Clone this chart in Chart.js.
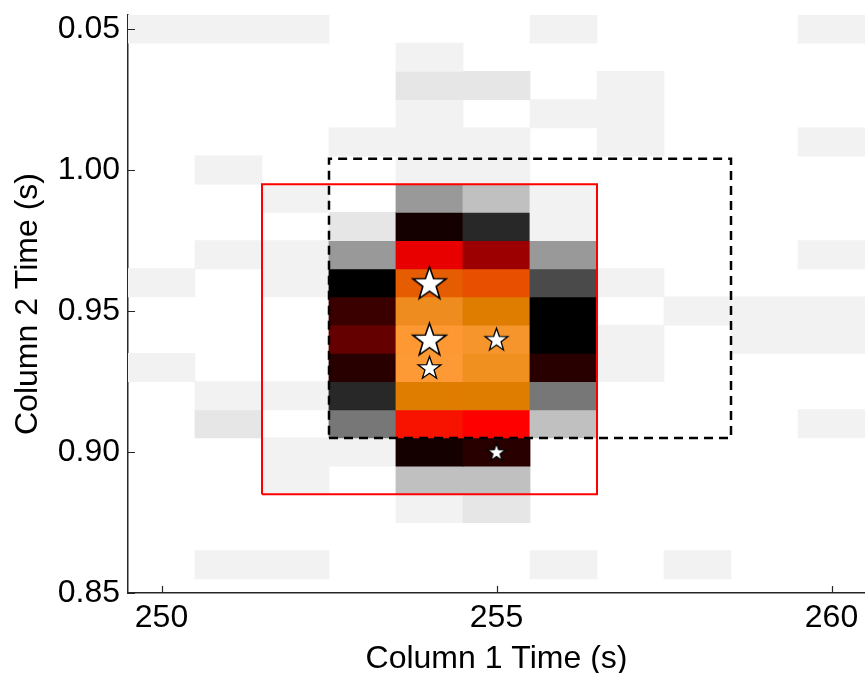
<!DOCTYPE html>
<html>
<head>
<meta charset="utf-8">
<script src="https://cdn.jsdelivr.net/npm/chart.js@4.4.1/dist/chart.umd.min.js"></script>
<style>
html,body{margin:0;padding:0;background:#ffffff;overflow:hidden;}
#wrap{width:865px;height:673px;}
canvas{display:block;}
</style>
</head>
<body>
<div id="wrap"><canvas id="c" width="865" height="673"></canvas></div>
<script>
// ---------------- DATA ----------------
const colCenters = [250, 251, 252, 253, 254, 255, 256, 257, 258, 259, 260];
const rowCenters = [1.05, 1.04, 1.03, 1.02, 1.01, 1.00, 0.99, 0.98, 0.97, 0.96,
                    0.95, 0.94, 0.93, 0.92, 0.91, 0.90, 0.89, 0.88, 0.87, 0.86];
const binWidth = 1;
const binHeight = 0.01;
// intensity level for each cell (rows top to bottom, columns 250..260)
const cellLevels = [
  [1,1,1,0,0,0,1,0,0,0,1],
  [0,0,0,0,1,0,0,0,0,0,0],
  [0,0,0,0,2,2,0,1,0,0,0],
  [0,0,0,0,1,0,1,1,0,0,0],
  [0,0,0,1,1,1,0,1,0,0,1],
  [0,1,0,0,1,1,0,0,0,0,0],
  [0,0,1,0,4,3,1,0,0,0,0],
  [0,0,0,2,9,7,1,0,0,0,0],
  [0,1,1,4,14,13,4,0,0,0,1],
  [1,0,1,8,18,17,6,1,0,0,0],
  [0,0,0,11,20,19,8,0,1,1,1],
  [0,0,0,12,23,22,8,1,0,1,1],
  [1,0,0,10,24,21,10,1,0,0,0],
  [0,1,1,7,19,19,5,0,0,0,0],
  [0,2,0,5,16,15,3,0,0,0,1],
  [0,0,1,1,9,10,0,0,0,0,0],
  [0,0,1,0,3,3,0,0,0,0,0],
  [0,0,0,0,1,2,0,0,0,0,0],
  [0,0,0,0,0,0,0,0,0,0,0],
  [0,1,1,0,0,0,1,0,1,0,0]
];
const xTickValues = [250, 255, 260];
const xTickLabels = ['250', '255', '260'];
const yTickValues = [0.85, 0.90, 0.95, 1.00, 1.05];
const yTickLabels = ['0.85', '0.90', '0.95', '1.00', '0.05'];
const starX = [254, 254, 254, 255, 255];
const starY = [0.96, 0.94, 0.93, 0.94, 0.90];
const starWeight = [3, 3, 2, 2, 1];
const redBoxX = [251.5, 256.5];
const redBoxY = [0.885, 0.995];
const dashBoxX = [252.5, 258.5];
const dashBoxY = [0.905, 1.004];
const xRange = [249.5, 260.5];
const yRange = [0.85, 1.055];

// ---------------- STYLE ----------------
const levelColors = ['rgba(0,0,0,0)', '#f2f2f2', '#e6e6e6', '#c0c0c0', '#999999', '#777777',
  '#4a4a4a', '#282828', '#000000', '#150000', '#280000', '#3a0000', '#640000', '#9c0000',
  '#e80000', '#ff0000', '#f81200', '#e85000', '#e65c00', '#df7d00', '#ef8c1f', '#f0901f',
  '#f7952d', '#fd9833', '#fd9a35'];
const starRadius = {3: 17.5, 2: 12, 1: 9.5};
const FONT = "'Liberation Sans', Arial, Helvetica, sans-serif";
const AXIS_COLOR = '#262626';

function makeStar(R, lw) {
  const s = Math.ceil(2 * R + lw * 2 + 4);
  const cv = document.createElement('canvas');
  cv.width = s; cv.height = s;
  const g = cv.getContext('2d');
  g.translate(s / 2, s / 2 + R * 0.08);
  g.beginPath();
  const r = R * 0.40;
  for (let i = 0; i < 10; i++) {
    const rad = (i % 2 === 0) ? R : r;
    const a = -Math.PI / 2 + i * Math.PI / 5;
    const px = rad * Math.cos(a), py = rad * Math.sin(a);
    if (i === 0) g.moveTo(px, py); else g.lineTo(px, py);
  }
  g.closePath();
  g.fillStyle = '#ffffff';
  g.fill();
  g.lineJoin = 'miter';
  g.lineWidth = lw;
  g.strokeStyle = '#000000';
  g.stroke();
  return cv;
}
const starImages = {};
Object.keys(starRadius).forEach(k => {
  starImages[k] = makeStar(starRadius[k], k === '3' ? 1.6 : 1.3);
});

// ---------------- DATASETS ----------------
const cellDatasets = rowCenters.map((yc, r) => ({
  type: 'bar',
  order: 3,
  data: colCenters.map((xc, c) => ({x: xc, y: [yc - binHeight / 2, yc + binHeight / 2], v: cellLevels[r][c]})),
  backgroundColor: ctx => levelColors[ctx.raw ? ctx.raw.v : 0],
  borderWidth: 0,
  borderSkipped: false,
  grouped: false,
  categoryPercentage: 1,
  barPercentage: 1,
  inflateAmount: 0.4
}));

function boxData(bx, by) {
  return [
    {x: bx[0], y: by[0]}, {x: bx[1], y: by[0]}, {x: bx[1], y: by[1]},
    {x: bx[0], y: by[1]}, {x: bx[0], y: by[0]}
  ];
}

const datasets = [
  {
    type: 'scatter',
    order: 0,
    data: starX.map((x, i) => ({x: x, y: starY[i], w: starWeight[i]})),
    pointStyle: ctx => starImages[ctx.raw ? ctx.raw.w : 1],
    pointRadius: ctx => starRadius[ctx.raw ? ctx.raw.w : 1],
    showLine: false
  },
  {
    type: 'line',
    order: 1,
    data: boxData(redBoxX, redBoxY),
    borderColor: '#ff0000',
    borderWidth: 2,
    pointRadius: 0,
    fill: false,
    tension: 0
  },
  {
    type: 'line',
    order: 1,
    data: boxData(dashBoxX, dashBoxY),
    borderColor: '#000000',
    borderWidth: 2.5,
    borderDash: [9, 6],
    pointRadius: 0,
    fill: false,
    tension: 0
  },
  ...cellDatasets
];

const inwardTicks = {
  id: 'inwardTicks',
  afterDraw(chart) {
    const {ctx, chartArea: a, scales: {x, y}} = chart;
    ctx.save();
    ctx.strokeStyle = AXIS_COLOR;
    ctx.lineWidth = 1.2;
    ctx.beginPath();
    xTickValues.forEach(v => {
      const px = Math.round(x.getPixelForValue(v)) + 0.5;
      ctx.moveTo(px, a.bottom); ctx.lineTo(px, a.bottom - 7);
    });
    yTickValues.forEach(v => {
      const py = Math.round(y.getPixelForValue(v)) + 0.5;
      ctx.moveTo(a.left, py); ctx.lineTo(a.left + 7, py);
    });
    ctx.stroke();
    ctx.restore();
  }
};

new Chart(document.getElementById('c'), {
  type: 'bar',
  data: {datasets: datasets},
  options: {
    responsive: false,
    animation: false,
    devicePixelRatio: 1,
    layout: {autoPadding: false, padding: {top: 15, right: 0, left: 0, bottom: 0}},
    plugins: {legend: {display: false}, tooltip: {enabled: false}},
    scales: {
      x: {
        type: 'linear',
        min: xRange[0], max: xRange[1],
        offset: false,
        afterBuildTicks: axis => { axis.ticks = xTickValues.map(v => ({value: v})); },
        afterFit: axis => { axis.height = 80; axis.paddingLeft = 0; axis.paddingRight = 0; },
        grid: {display: false, drawTicks: false},
        border: {display: true, color: AXIS_COLOR, width: 1.5},
        ticks: {
          color: '#000000', padding: 6, maxRotation: 0, autoSkip: false,
          font: {family: FONT, size: 32},
          callback: v => xTickLabels[xTickValues.indexOf(v)]
        },
        title: {display: true, text: 'Column 1 Time (s)', color: '#000000',
          font: {family: FONT, size: 32, lineHeight: 1}, padding: {top: 0, bottom: -2}}
      },
      y: {
        type: 'linear',
        min: yRange[0], max: yRange[1],
        afterBuildTicks: axis => { axis.ticks = yTickValues.map(v => ({value: v})); },
        afterFit: axis => { axis.width = 128; axis.paddingTop = 0; axis.paddingBottom = 0; },
        grid: {display: false, drawTicks: false},
        border: {display: true, color: AXIS_COLOR, width: 1.5},
        ticks: {
          color: '#000000', padding: 8, autoSkip: false,
          font: {family: FONT, size: 32},
          callback: v => yTickLabels[yTickValues.findIndex(t => Math.abs(t - v) < 1e-9)]
        },
        title: {display: true, text: 'Column 2 Time (s)', color: '#000000',
          font: {family: FONT, size: 32, lineHeight: 1}, padding: {top: 12, bottom: 0}}
      }
    }
  },
  plugins: [inwardTicks]
});
</script>
</body>
</html>
